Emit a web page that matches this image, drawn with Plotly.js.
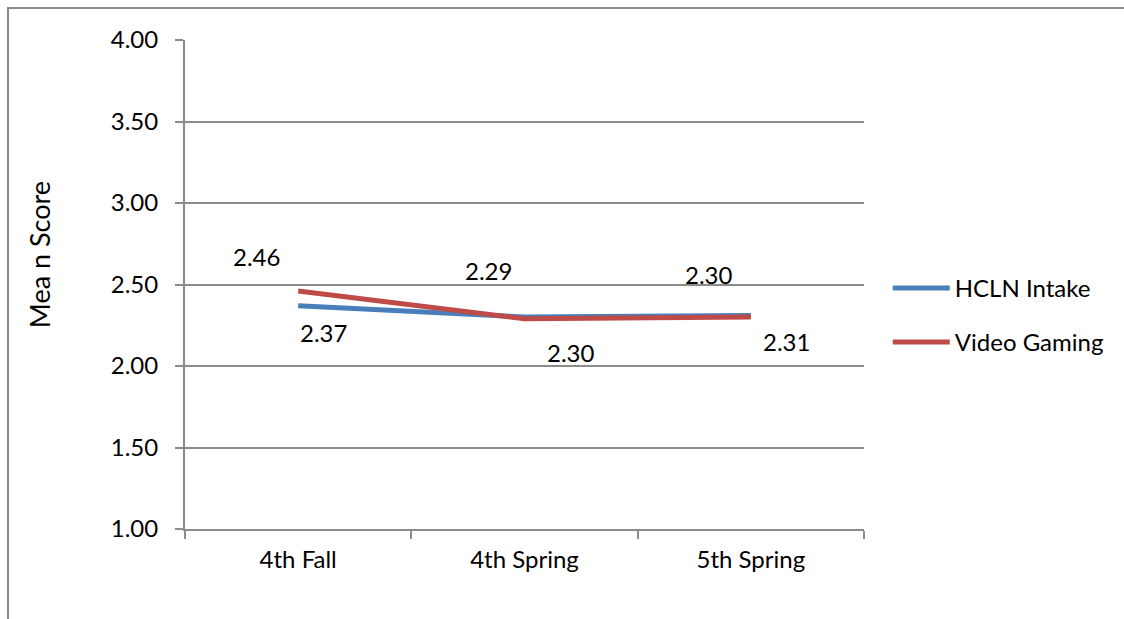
<!DOCTYPE html>
<html>
<head>
<meta charset="utf-8">
<script src="https://cdn.plot.ly/plotly-3.0.1.min.js"></script>
<style>
  html, body { margin: 0; padding: 0; background: #fff; overflow: hidden; }
  #wrap { position: relative; width: 1124px; height: 619px; }
  #chart { width: 1124px; height: 619px; }
  #frame { position: absolute; left: 7px; top: 7px; width: 1200px; height: 700px;
           border-left: 2px solid #8c8c8c; border-top: 2px solid #8c8c8c; pointer-events: none; }
</style>
</head>
<body>
<div id="wrap">
  <div id="chart"></div>
  <div id="frame"></div>
</div>
<script>
// ---- data ----
var categories = ["4th Fall", "4th Spring", "5th Spring"];
var hclnIntake = [2.37, 2.30, 2.31];
var videoGaming = [2.46, 2.29, 2.30];
var seriesNames = ["HCLN Intake", "Video Gaming"];
var yTickValues = [1.0, 1.5, 2.0, 2.5, 3.0, 3.5, 4.0];
var yTitle = "Mea n Score";

// ---- styling (label offsets in pixels) ----
var hclnShift = [[25, -27], [46, -35], [36, -26]];
var gamingShift = [[-42, 35], [-36, 48], [-42, 43]];
var FONT = "Lato, 'Open Sans', sans-serif";
var FS = 24;

var traces = [
  { x: categories, y: hclnIntake, name: seriesNames[0], type: "scatter", mode: "lines",
    line: { color: "#4A7EBB", width: 5 }, legendgroup: "a", hoverinfo: "skip" },
  { x: categories, y: videoGaming, name: seriesNames[1], type: "scatter", mode: "lines",
    line: { color: "#BE4B48", width: 5 }, legendgroup: "b", hoverinfo: "skip" }
];

var annotations = [];
function addLabels(vals, shifts) {
  vals.forEach(function (v, i) {
    annotations.push({
      x: categories[i], y: v, xref: "x", yref: "y",
      text: v.toFixed(2), showarrow: false,
      xshift: shifts[i][0], yshift: shifts[i][1],
      xanchor: "center", yanchor: "middle",
      font: { family: FONT, size: FS, color: "#000" }
    });
  });
}
addLabels(hclnIntake, hclnShift);
addLabels(videoGaming, gamingShift);

annotations.push({
  xref: "paper", yref: "paper", x: -0.215, y: 0.56,
  text: yTitle, textangle: -90, showarrow: false,
  xanchor: "center", yanchor: "middle",
  font: { family: FONT, size: 27, color: "#000" }
});

var layout = {
  width: 1124, height: 619,
  margin: { l: 185, r: 260, t: 40, b: 90 },
  paper_bgcolor: "#fff", plot_bgcolor: "#fff",
  font: { family: FONT, size: FS, color: "#000" },
  showlegend: true,
  legend: {
    x: 1.035, y: 0.437, xanchor: "left", yanchor: "middle",
    font: { family: FONT, size: FS, color: "#000" },
    itemwidth: 57, tracegroupgap: 20, traceorder: "grouped",
    bgcolor: "rgba(0,0,0,0)"
  },
  xaxis: {
    type: "category", range: [-0.5, 2.5], fixedrange: true,
    showgrid: false, zeroline: false,
    showline: true, linecolor: "#8c8c8c", linewidth: 2,
    ticks: "outside", ticklen: 8, tickwidth: 2, tickcolor: "#8c8c8c",
    tickson: "boundaries", ticklabelstandoff: 8,
    tickfont: { family: FONT, size: FS, color: "#000" }
  },
  yaxis: {
    range: [1, 4], tickvals: yTickValues, tickformat: ".2f", fixedrange: true,
    showgrid: true, gridcolor: "#8c8c8c", gridwidth: 2, zeroline: false,
    showline: true, linecolor: "#8c8c8c", linewidth: 2,
    ticks: "outside", ticklen: 8, tickwidth: 2, tickcolor: "#8c8c8c",
    ticklabelstandoff: 12,
    tickfont: { family: FONT, size: FS, color: "#000" }
  },
  annotations: annotations
};

Plotly.newPlot("chart", traces, layout, { displayModeBar: false, staticPlot: true });
</script>
</body>
</html>
